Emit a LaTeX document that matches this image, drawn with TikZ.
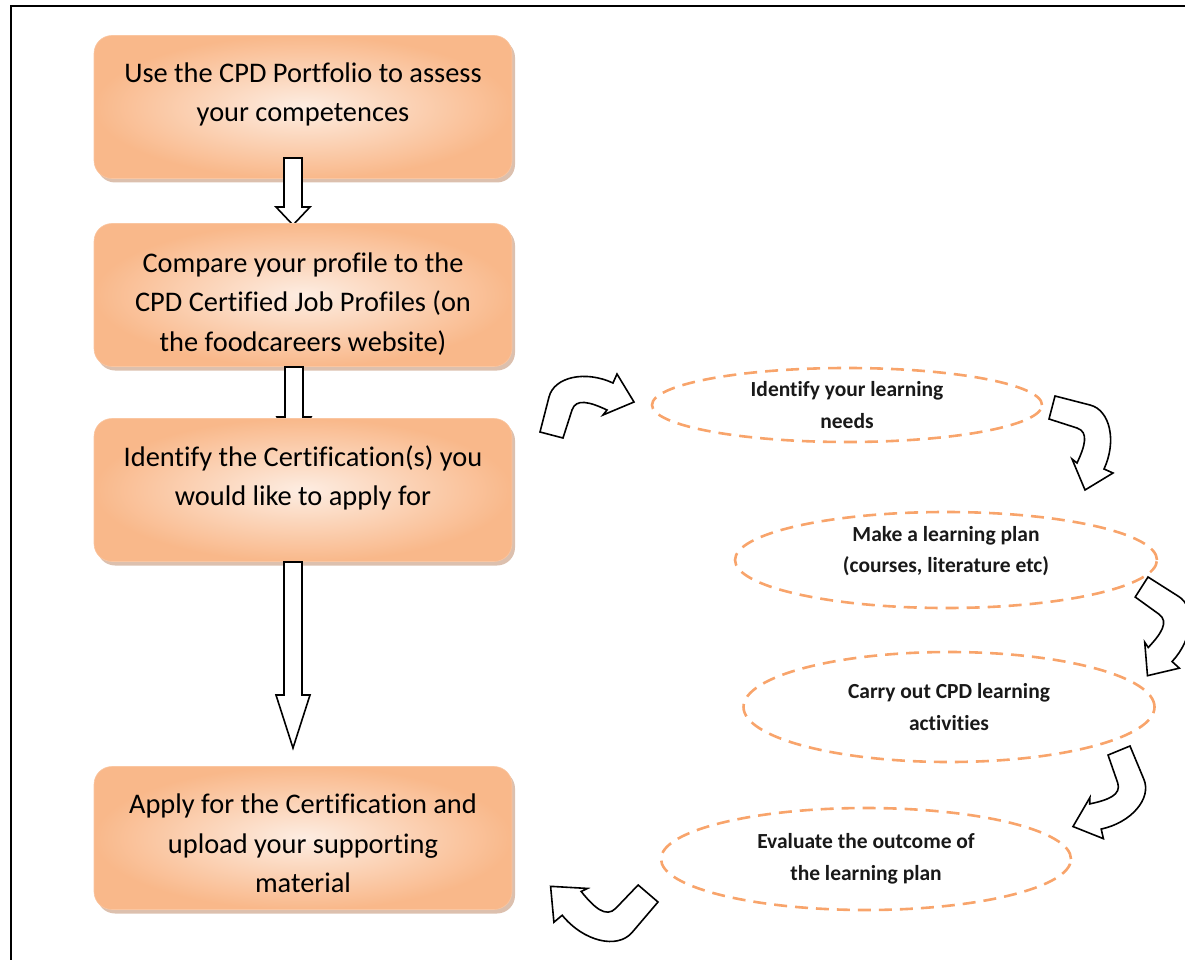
\documentclass[tikz,border=0pt]{standalone}
\usepackage{fontspec}
\setmainfont{Carlito}[Ligatures=NoCommon]
\usetikzlibrary{shapes.geometric,shadows,positioning,calc}
\definecolor{peach}{RGB}{249,184,138}
\definecolor{peachlight}{RGB}{253,237,226}
\definecolor{dashorange}{RGB}{248,164,107}
\definecolor{boxshadow}{RGB}{196,150,120}
\tikzstyle{stepbox}  =[rectangle, rounded corners=18pt, minimum width=418pt,
                       minimum height=143pt, inner sep=0pt,
                       inner color=peachlight, outer color=peach,
                       draw=peach!80, line width=0.6pt,
                       drop shadow={shadow xshift=3pt, shadow yshift=-4pt,
                       fill=boxshadow, opacity=0.6}]
\tikzstyle{boxtext}  =[align=center, inner sep=0pt, text=black,
                       font=\fontsize{28.4}{39.5}\selectfont]
\tikzstyle{ovaltext} =[align=center, inner sep=0pt, text=black!90,
                       font=\bfseries\fontsize{21.5}{31.5}\selectfont]
\tikzstyle{cycleoval}=[ellipse, draw=dashorange, dash pattern=on 13pt off 8pt,
                       line width=2.6pt, inner sep=0pt, ovaltext]
\tikzstyle{blockarrow}=[draw=black, fill=white, line width=1.6pt,
                        line join=miter]
\tikzset{bentarrow/.pic={
    \draw[blockarrow] (0,0) -- (9,-35) .. controls (14,-55) and (45,-62) .. (73,-49)
        -- (77,-58) -- (94,-30) -- (63,-17) -- (67,-22)
        .. controls (50,-30) and (36,-34) .. (32,-22) -- (23,6) -- cycle;}}
% straight block arrow: tail point, tip point, head length
\newcommand{\blockdown}[3]{\draw[blockarrow] ($(#1)+(-9,0)$) -- ($(#1)+(9,0)$)
    -- ($(#2)+(9,-#3)$) -- ($(#2)+(17,-#3)$) -- (#2) -- ($(#2)+(-17,-#3)$)
    -- ($(#2)+(-9,-#3)$) -- cycle;}

\begin{document}
\begin{tikzpicture}[x=1pt, y=-1pt]
    \useasboundingbox (0,0) rectangle (1185,960);
    \draw[line width=1.8pt] (11,960) -- (11,6) -- (1185,6);

    % left column
    \node[stepbox] (b1) at (303,107) {};
    \node[boxtext, below=27pt of b1.north] (t1)
        {Use the CPD Portfolio to assess\\your competences};
    \coordinate (a1) at (293,158);
    \coordinate (a1tip) at (293,225);
    \blockdown{a1}{a1tip}{18}

    \node[stepbox] (b2) at (303,295) {};
    \node[boxtext, below=29pt of b2.north] (t2)
        {Compare your profile to the\\CPD Certified Job Profiles (on\\the foodcareers website)};
    \coordinate (a2) at (294,367);
    \coordinate (a2tip) at (294,445);
    \blockdown{a2}{a2tip}{28}

    \node[stepbox] (b3) at (303,490) {};
    \node[boxtext, below=27pt of b3.north] (t3)
        {Identify the Certification(s) you\\would like to apply for};
    \coordinate (a3) at (293,562);
    \coordinate (a3tip) at (293,748);
    \blockdown{a3}{a3tip}{53}

    \node[stepbox] (b4) at (303,838) {};
    \node[boxtext, below=27.5pt of b4.north] (t4)
        {Apply for the Certification and\\upload your supporting\\material};

    % learning cycle
    \node[cycleoval, minimum width=390pt, minimum height=74pt] (e1) at (847,405)
        {Identify your learning\\needs};
    \node[cycleoval, minimum width=422pt, minimum height=96pt] (e2) at (946,560) {};
    \node[ovaltext] (t6) at ($(e2)+(0,-9)$)
        {Make a learning plan\\(courses, literature etc)};
    \node[cycleoval, minimum width=411pt, minimum height=110pt] (e3) at (949,707)
        {Carry out CPD learning\\activities};
    \node[cycleoval, minimum width=410pt, minimum height=102pt] (e4) at (866,859)
        {Evaluate the outcome of\\the learning plan};

    \path (540,432) pic {bentarrow};
    \path (1055,396) pic[rotate=-90] {bentarrow};
    \path (1148,577) pic[rotate=-108] {bentarrow};
    \path (1130,746) pic[rotate=-143] {bentarrow};
    \path (658,902) pic[rotate=154, scale=1.1] {bentarrow};
\end{tikzpicture}
\end{document}
